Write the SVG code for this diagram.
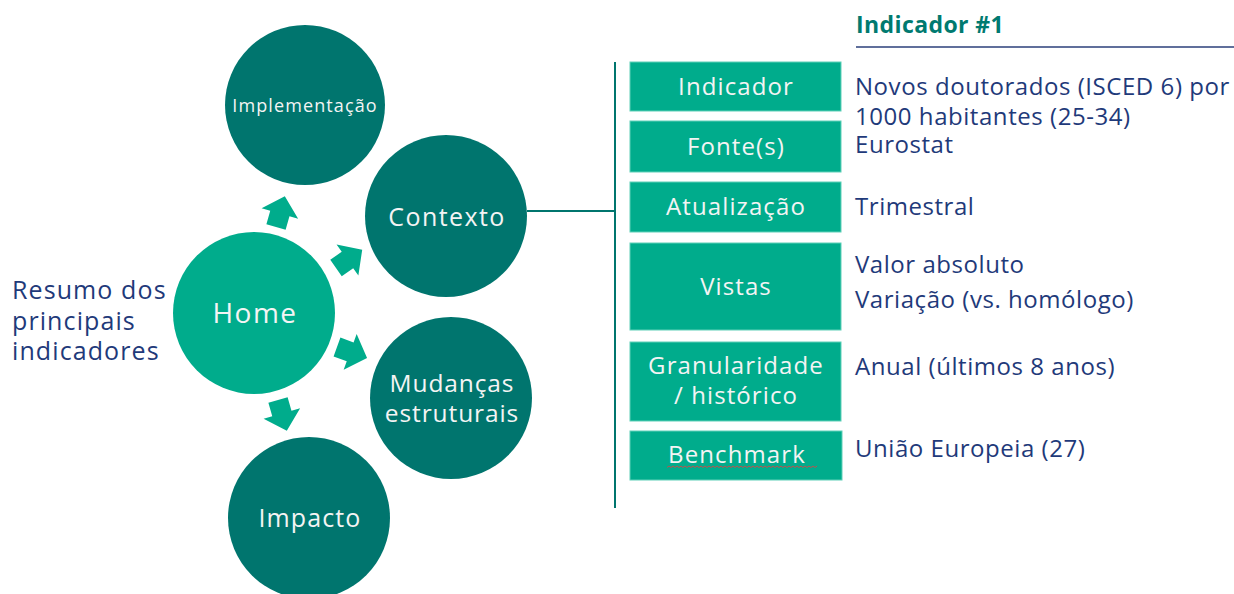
<svg xmlns="http://www.w3.org/2000/svg" width="1234" height="594" viewBox="0 0 1234 594">
<style>
.lt{fill:#00AC8C}
.dk{fill:#00756E}
.ct{fill:#F4F4F4;font-family:"Open Sans",sans-serif;text-anchor:middle}
.bt{fill:#F4F4F4;font-family:"Open Sans",sans-serif;font-size:24px;letter-spacing:1.1px;text-anchor:middle}
.rt{fill:#1F3A7A;font-family:"Open Sans",sans-serif;font-size:24px;letter-spacing:0.55px}
.lf{fill:#1F3A7A;font-family:"Open Sans",sans-serif;font-size:25px;letter-spacing:1.1px}
.box{fill:#00AC8C;stroke:#5FD0B8;stroke-width:1}
.ln{stroke:#00756E;stroke-width:2;fill:none}
</style>
<defs>
<polygon id="arr" points="0,-10 14,-10 14,-19 32,0 14,19 14,10 0,10" fill="#00AC8C"/>
</defs>
<rect width="1234" height="594" fill="#FFFFFF"/>
<g id="summary">
<text class="lf" x="12" y="299">Resumo dos</text>
<text class="lf" x="12" y="330">principais</text>
<text class="lf" x="12" y="360">indicadores</text>
</g>
<g id="connectors">
<use href="#arr" transform="translate(276,227) rotate(-74)"/>
<use href="#arr" transform="translate(336,268) rotate(-35)"/>
<use href="#arr" transform="translate(337,347) rotate(20)"/>
<use href="#arr" transform="translate(278,400) rotate(74)"/>
<line class="ln" x1="527" y1="211" x2="615" y2="211"/>
<line class="ln" x1="615" y1="62" x2="615" y2="508"/>
</g>
<g id="home">
<circle class="lt" cx="254" cy="313" r="81"/>
<text class="ct" x="255" y="323" style="font-size:28px;letter-spacing:1.5px">Home</text>
</g>
<g id="implementacao">
<circle class="dk" cx="305" cy="105" r="80"/>
<text class="ct" x="305" y="112" style="font-size:18px;letter-spacing:1.1px">Implementação</text>
</g>
<g id="contexto">
<circle class="dk" cx="446" cy="216" r="81"/>
<text class="ct" x="447" y="226" style="font-size:25px;letter-spacing:1.4px">Contexto</text>
</g>
<g id="mudancas">
<circle class="dk" cx="451" cy="398" r="81"/>
<text class="ct" x="452" y="392" style="font-size:24.5px;letter-spacing:0.9px">Mudanças</text>
<text class="ct" x="452" y="422" style="font-size:24.5px;letter-spacing:0.9px">estruturais</text>
</g>
<g id="impacto">
<circle class="dk" cx="309" cy="518" r="81"/>
<text class="ct" x="310" y="527" style="font-size:25px;letter-spacing:1.1px">Impacto</text>
</g>
<g id="header">
<text x="856" y="33" fill="#007A70" font-family="'Open Sans',sans-serif" font-weight="bold" font-size="23" letter-spacing="0.4">Indicador #1</text>
<line x1="856" y1="47" x2="1234" y2="47" stroke="#2B3F7A" stroke-width="1.5"/>
</g>
<g id="row-indicador">
<rect class="box" x="630" y="62" width="211" height="49"/>
<text class="bt" x="736" y="95">Indicador</text>
<text class="rt" x="855" y="95">Novos doutorados (ISCED 6) por</text>
<text class="rt" x="855" y="125">1000 habitantes (25-34)</text>
</g>
<g id="row-fontes">
<rect class="box" x="630" y="121" width="211" height="51"/>
<text class="bt" x="736" y="155">Fonte(s)</text>
<text class="rt" x="855" y="153">Eurostat</text>
</g>
<g id="row-atualizacao">
<rect class="box" x="630" y="182" width="211" height="50"/>
<text class="bt" x="736" y="215">Atualização</text>
<text class="rt" x="855" y="215">Trimestral</text>
</g>
<g id="row-vistas">
<rect class="box" x="630" y="243" width="211" height="87"/>
<text class="bt" x="736" y="295">Vistas</text>
<text class="rt" x="855" y="273">Valor absoluto</text>
<text class="rt" x="855" y="308">Variação (vs. homólogo)</text>
</g>
<g id="row-granularidade">
<rect class="box" x="630" y="342" width="211" height="79"/>
<text class="bt" x="736" y="374">Granularidade</text>
<text class="bt" x="736" y="404">/ histórico</text>
<text class="rt" x="855" y="375">Anual (últimos 8 anos)</text>
</g>
<g id="row-benchmark">
<rect class="box" x="630" y="431" width="212" height="49"/>
<text class="bt" x="737" y="463">Benchmark</text>
<path d="M667,467.5 l2,-1.5 l2,1.5 l2,-1.5 l2,1.5 l2,-1.5 l2,1.5 l2,-1.5 l2,1.5 l2,-1.5 l2,1.5 l2,-1.5 l2,1.5 l2,-1.5 l2,1.5 l2,-1.5 l2,1.5 l2,-1.5 l2,1.5 l2,-1.5 l2,1.5 l2,-1.5 l2,1.5 l2,-1.5 l2,1.5 l2,-1.5 l2,1.5 l2,-1.5 l2,1.5 l2,-1.5 l2,1.5 l2,-1.5 l2,1.5 l2,-1.5 l2,1.5 l2,-1.5 l2,1.5 l2,-1.5 l2,1.5 l2,-1.5 l2,1.5 l2,-1.5 l2,1.5 l2,-1.5 l2,1.5 l2,-1.5 l2,1.5 l2,-1.5 l2,1.5 l2,-1.5 l2,1.5 l2,-1.5 l2,1.5 l2,-1.5 l2,1.5 l2,-1.5 l2,1.5 l2,-1.5 l2,1.5 l2,-1.5 l2,1.5 l2,-1.5 l2,1.5 l2,-1.5 l2,1.5 l2,-1.5 l2,1.5 l2,-1.5 l2,1.5 l2,-1.5 l2,1.5 l2,-1.5 l2,1.5 l2,-1.5 l2,1.5 l2,-1.5" stroke="#C0504D" stroke-width="1" fill="none"/>
<text class="rt" x="855" y="457">União Europeia (27)</text>
</g>
</svg>
